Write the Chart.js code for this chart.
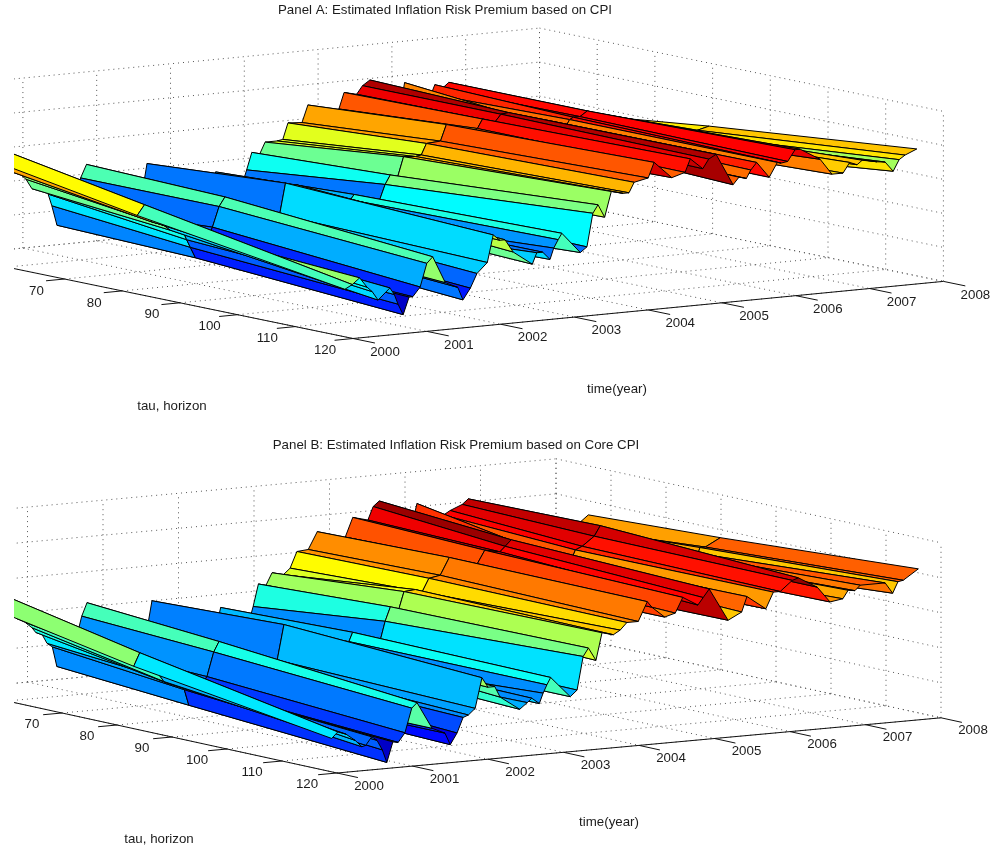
<!DOCTYPE html>
<html><head><meta charset="utf-8">
<style>html,body{margin:0;padding:0;background:#fff}canvas{position:absolute;left:0;display:block}</style>
<script src="https://cdn.jsdelivr.net/npm/chart.js@4"></script>
</head><body>
<canvas id="a" width="1000" height="424" style="top:0"></canvas>
<canvas id="b" width="1000" height="424" style="top:424px"></canvas>
<script>
const tauNodes=[60,84,120];
const tauTicks=[60,70,80,90,100,110,120];
const tauLabels=[70,80,90,100,110,120];
const yearTicks=[2000,2001,2002,2003,2004,2005,2006,2007,2008];

const timeA=[1999.89,1999.99,2000.09,2000.19,2000.26,2000.34,2000.50,2000.56,2000.61,2000.68,2000.76,2000.81,2000.91,2001.00,2001.08,2001.25,2001.42,2001.49,2001.59,2001.68,2001.82,2001.90,2001.99,2002.06,2002.17,2002.43,2002.49,2002.57,2002.67,2002.72,2002.78,2002.83,2003.08,2003.17,2003.25,2003.32,2003.41,2003.50,2003.66,2003.74,2003.81,2004.00,2004.08,2004.32,2004.50,2004.57,2004.74,2004.82,2004.92,2005.15,2005.23,2005.33,2005.39,2005.47,2005.64,2005.75,2005.80,2005.89,2005.99,2006.06,2006.33,2006.49,2006.64,2006.73,2006.83,2006.90,2007.10,2007.21,2007.32,2007.40,2007.48,2007.64];
const premA60=[105,116,94,91,86,76,75,69,57,37,58,52,54,82,95,54,43,32,42,51,55,90,69,73,63,56,60,60,54,59,63,75,41,55,74,91,86,100,100,101,117,116,133,117,126,142,139,147,152,121,121,120,146,134,123,132,141,136,142,140,128,114,113,118,116,117,112,109,106,107,107,99];
const premA84=[81,91,73,71,68,63,63,52,44,33,46,45,62,82,91,59,55,43,53,66,68,99,92,96,86,66,55,68,55,59,76,81,54,72,88,97,92,114,113,114,125,126,142,125,135,144,140,147,148,125,127,123,133,136,121,135,137,137,142,140,121,110,111,118,112,119,111,108,93,108,112,115];
const premA120=[50,54,60,50,45,36,47,40,30,19,36,36,45,68,74,47,41,28,39,53,63,90,84,84,71,57,68,68,60,71,79,85,64,69,102,110,97,122,119,119,129,132,147,130,134,147,136,145,149,117,124,122,130,137,121,135,134,135,146,146,134,118,118,128,125,129,126,125,115,126,130,135];

const timeB=[1999.93,2000.01,2000.12,2000.24,2000.33,2000.38,2000.46,2000.53,2000.60,2000.66,2000.74,2000.81,2000.90,2000.99,2001.06,2001.26,2001.43,2001.50,2001.59,2001.67,2001.74,2001.83,2001.92,2002.00,2002.09,2002.16,2002.42,2002.52,2002.58,2002.68,2002.73,2002.78,2002.83,2003.09,2003.18,2003.26,2003.33,2003.43,2003.51,2003.66,2003.75,2003.84,2003.99,2004.11,2004.17,2004.34,2004.48,2004.58,2004.78,2004.85,2004.93,2005.18,2005.36,2005.43,2005.68,2005.78,2005.87,2006.03,2006.11,2006.36,2006.53,2006.70,2006.77,2006.86,2006.93,2007.26,2007.36,2007.43,2007.50,2007.70];
const premB60=[89,104,82,77,71,66,64,54,50,30,46,45,51,78,91,42,36,26,35,50,49,48,87,77,77,66,44,44,48,43,44,57,74,48,50,72,94,92,104,101,107,123,124,141,132,116,133,152,148,161,166,120,138,160,132,146,150,155,160,142,131,127,132,131,131,128,120,124,121,133];
const premB84=[64,77,61,56,46,44,47,43,36,20,38,37,47,71,81,36,30,24,40,50,53,57,92,78,80,75,55,50,60,50,50,69,78,55,63,86,100,94,114,115,112,125,127,144,136,125,135,148,145,150,156,115,130,137,122,140,143,152,162,142,123,120,130,127,132,128,115,131,131,139];
const premB120=[35,41,38,31,24,25,33,29,19,6,26,25,34,58,63,36,30,18,29,44,46,52,82,72,72,61,47,53,57,51,61,69,76,55,61,94,102,89,116,113,117,124,124,143,137,126,129,144,135,142,150,117,124,139,125,141,141,151,153,142,126,128,136,135,140,140,129,140,141,151];

const zTicksA=[0,34,68,102,136,170];
const zTicksB=[0,35,70,105,140,175];

function jet(v){
  v=Math.max(0,Math.min(1,v));
  const ch=d=>Math.round(255*Math.max(0,Math.min(1,1.5-4*Math.abs(v-d))));
  return `rgb(${ch(0.75)},${ch(0.5)},${ch(0.25)})`;
}

function build(cfg){
  const P=(t,tau,z)=>({
    x:cfg.ox+cfg.tx*(t-2000)-cfg.ax*(120-tau),
    y:cfg.oy-cfg.ty*(t-2000)-cfg.ay*(120-tau)-cfg.zs*z
  });
  const ds=[];
  const line=(pts,extra)=>ds.push(Object.assign({data:pts,showLine:true,pointRadius:0,borderColor:'#000',borderWidth:1,fill:false,tension:0,clip:0},extra));
  const solid={borderColor:'#111'};
  line([P(2000,50,0),P(2000,120,0)],solid);
  line([P(2000,120,0),P(2008,120,0)],solid);
  tauLabels.forEach(tau=>line([P(2000,tau,0),P(1999.75,tau,0)],solid));
  yearTicks.forEach(y=>line([P(y,120,0),P(y,123.8,0)],solid));
  const Z=[cfg.z60,cfg.z84,cfg.z120],T=cfg.time;
  for(let i=0;i<T.length-1;i++){
    for(let j=1;j>=0;j--){
      const a=tauNodes[j],b=tauNodes[j+1];
      const poly=[P(T[i],a,Z[j][i]),P(T[i+1],a,Z[j][i+1]),P(T[i+1],b,Z[j+1][i+1]),P(T[i],b,Z[j+1][i])];
      poly.push(poly[0]);
      line(poly,{fill:'shape',backgroundColor:jet((Z[j][i]-cfg.cmin)/(cfg.cmax-cfg.cmin)),borderColor:'#000',borderWidth:1,borderJoinStyle:'round'});
    }
  }
  const dot={borderColor:'#555',borderWidth:1,borderDash:[1,4]};
  const zTop=cfg.zTicks[cfg.zTicks.length-1];
  yearTicks.forEach(y=>{
    line([P(y,50,0),P(y,120,0)],dot);
    line([P(y,50,0),P(y,50,zTop)],dot);
  });
  [50].concat(tauTicks).forEach(tau=>{
    line([P(2000,tau,0),P(2008,tau,0)],dot);
    line([P(2008,tau,0),P(2008,tau,zTop)],dot);
  });
  cfg.zTicks.forEach(z=>{
    line([P(2000,50,z),P(2008,50,z)],dot);
    line([P(2008,50,z),P(2008,120,z)],dot);
  });
  const textPlugin={id:'txt',afterDraw(ch){
    const c=ch.ctx,sx=ch.scales.x,sy=ch.scales.y;
    c.save();
    c.fillStyle='#1c1c1c';c.textAlign='center';c.textBaseline='middle';
    const put=(s,x,y,f)=>{c.font=f+'px "Liberation Sans", Arial, sans-serif';c.fillText(s,sx.getPixelForValue(x),sy.getPixelForValue(y));};
    tauLabels.forEach(tau=>{const p=P(2000,tau,0);put(String(tau),p.x+cfg.lt[0],p.y+cfg.lt[1],13.3);});
    yearTicks.forEach(y=>{const p=P(y,120,0);put(String(y),p.x+cfg.ly[0],p.y+cfg.ly[1],13.3);});
    put(cfg.title,cfg.titlePos[0],cfg.titlePos[1],13.3);
    put('time(year)',cfg.timePos[0],cfg.timePos[1],13.3);
    put('tau, horizon',cfg.tauPos[0],cfg.tauPos[1],13.3);
    c.restore();
  }};
  new Chart(document.getElementById(cfg.id),{
    type:'scatter',
    data:{datasets:ds},
    options:{
      responsive:false,animation:false,
      layout:{padding:{left:14,right:0,top:0,bottom:0}},
      plugins:{legend:{display:false},tooltip:{enabled:false},title:{display:false}},
      scales:{
        x:{type:'linear',display:false,min:14,max:1000},
        y:{type:'linear',display:false,reverse:true,min:cfg.y0,max:cfg.y0+424}
      }
    },
    plugins:[textPlugin]
  });
}

build({id:'a',y0:0,ox:353,oy:338.5,tx:73.8,ty:7.14,ax:5.77,ay:1.19,zs:1,cmin:24,cmax:153,
  time:timeA,z60:premA60,z84:premA84,z120:premA120,zTicks:zTicksA,lt:[-28,12],ly:[32,13.5],
  title:'Panel A: Estimated Inflation Risk Premium based on CPI',titlePos:[445,10],timePos:[617,389],tauPos:[172,406]});
build({id:'b',y0:424,ox:337,oy:773,tx:75.5,ty:6.9,ax:5.5,ay:1.2,zs:1,cmin:9,cmax:165,
  time:timeB,z60:premB60,z84:premB84,z120:premB120,zTicks:zTicksB,lt:[-30,11],ly:[32,13],
  title:'Panel B: Estimated Inflation Risk Premium based on Core CPI',titlePos:[456,445],timePos:[609,822],tauPos:[159,839]});
</script>
</body></html>
